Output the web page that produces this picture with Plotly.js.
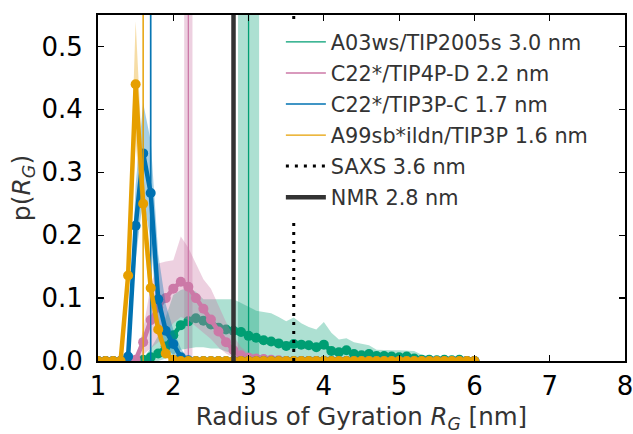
<!DOCTYPE html>
<html>
<head>
<meta charset="utf-8">
<script src="https://cdn.plot.ly/plotly-3.0.1.min.js"></script>
<style>html,body{margin:0;padding:0;background:#fff;}#chart{width:633px;height:434px;}</style>
</head>
<body>
<div id="chart"></div>
<script>
// Bin centres of the Rg histograms [nm]
const rg = [1.0,1.1,1.2,1.3,1.4,1.5,1.6,1.7,1.8,1.9,
            2.0,2.1,2.2,2.3,2.4,2.5,2.6,2.7,2.8,2.9,
            3.0,3.1,3.2,3.3,3.4,3.5,3.6,3.7,3.8,3.9,
            4.0,4.1,4.2,4.3,4.4,4.5,4.6,4.7,4.8,4.9,
            5.0,5.1,5.2,5.3,5.4,5.5,5.6,5.7,5.8,5.9,6.0];

// A03ws/TIP2005s
const a03Mean = [0,0,0,0,0,0,0.002,0.006,0.012,0.023,
                 0.041,0.057,0.063,0.068,0.064,0.058,0.053,0.050,0.048,0.046,
                 0.040,0.037,0.033,0.031,0.028,0.024,0.027,0.026,0.025,0.022,
                 0.026,0.016,0.014,0.017,0.011,0.009,0.011,0.008,0.008,0.007,
                 0.006,0.007,0.004,0.002,0.002,0.001,0.002,0.001,0.002,0,0];
const a03Up   = [0,0,0,0,0,0.002,0.005,0.020,0.040,0.070,
                 0.105,0.113,0.116,0.110,0.098,0.098,0.098,0.098,0.098,0.092,
                 0.086,0.080,0.078,0.076,0.070,0.063,0.069,0.060,0.054,0.050,
                 0.062,0.045,0.034,0.036,0.030,0.028,0.025,0.018,0.017,0.017,
                 0.017,0.017,0.016,0.010,0.008,0.004,0.004,0.002,0.004,0.001,0];
const a03Lo   = [0,0,0,0,0,0,0,0,0,0.004,
                 0.010,0.018,0.020,0.022,0.022,0.020,0.020,0.015,0.012,0.010,
                 0.008,0.006,0.005,0.005,0.004,0.003,0.004,0.004,0.003,0.003,
                 0.003,0.001,0.001,0.001,0.001,0,0,0,0,0,
                 0,0,0,0,0,0,0,0,0,0,0];

// C22*/TIP4P-D
const c22dMean = [0,0,0,0,0,0.002,0.030,0.065,0.085,0.100,
                  0.115,0.126,0.118,0.100,0.083,0.066,0.047,0.030,0.017,0.009,
                  0.005,0.004,0.003,0.002,0.001,0,0,0,0,0,
                  0,0,0,0,0,0,0,0,0,0,
                  0,0,0,0,0,0,0,0,0,0,0];
const c22dUp   = [0,0,0,0,0,0.005,0.050,0.120,0.155,0.158,
                  0.160,0.198,0.180,0.155,0.130,0.115,0.088,0.062,0.040,0.022,
                  0.013,0.010,0.008,0.005,0.003,0,0,0,0,0,
                  0,0,0,0,0,0,0,0,0,0,
                  0,0,0,0,0,0,0,0,0,0,0];
const c22dLo   = [0,0,0,0,0,0,0.010,0.020,0.030,0.045,
                  0.060,0.070,0.065,0.055,0.045,0.035,0.022,0.012,0.005,0.002,
                  0,0,0,0,0,0,0,0,0,0,
                  0,0,0,0,0,0,0,0,0,0,
                  0,0,0,0,0,0,0,0,0,0,0];

// C22*/TIP3P-C
const c22cMean = [0,0,0,0,0.007,0.215,0.330,0.267,0.098,0.048,
                  0.027,0.006,0.001,0,0,0,0,0,0,0,
                  0,0,0,0,0,0,0,0,0,0,
                  0,0,0,0,0,0,0,0,0,0,
                  0,0,0,0,0,0,0,0,0,0,0];
const c22cUp   = [0,0,0,0,0.020,0.280,0.410,0.350,0.170,0.090,
                  0.050,0.020,0.004,0,0,0,0,0,0,0,
                  0,0,0,0,0,0,0,0,0,0,
                  0,0,0,0,0,0,0,0,0,0,
                  0,0,0,0,0,0,0,0,0,0,0];
const c22cLo   = [0,0,0,0,0,0.160,0.260,0.190,0.050,0.020,
                  0.010,0,0,0,0,0,0,0,0,0,
                  0,0,0,0,0,0,0,0,0,0,
                  0,0,0,0,0,0,0,0,0,0,
                  0,0,0,0,0,0,0,0,0,0,0];

// A99sb*ildn/TIP3P
const a99Mean = [0,0,0,0,0.136,0.440,0.250,0.116,0.050,0.012,
                 0.002,0,0,0,0,0,0,0,0,0,
                 0,0,0,0,0,0,0,0,0,0,
                 0,0,0,0,0,0,0,0,0,0,
                 0,0,0,0,0,0,0,0,0,0,0];
const a99Up   = [0,0,0,0,0.170,0.540,0.300,0.140,0.065,0.020,
                 0.004,0,0,0,0,0,0,0,0,0,
                 0,0,0,0,0,0,0,0,0,0,
                 0,0,0,0,0,0,0,0,0,0,
                 0,0,0,0,0,0,0,0,0,0,0];
const a99Lo   = [0,0,0,0,0.100,0.350,0.200,0.090,0.035,0.005,
                 0,0,0,0,0,0,0,0,0,0,
                 0,0,0,0,0,0,0,0,0,0,
                 0,0,0,0,0,0,0,0,0,0,
                 0,0,0,0,0,0,0,0,0,0,0];

// Model averages and their uncertainty [nm]
const modelNames = ["A03ws/TIP2005s", "C22*/TIP4P-D", "C22*/TIP3P-C", "A99sb*ildn/TIP3P"];
const modelAvg   = [3.0, 2.2, 1.7, 1.6];
const modelErr   = [0.14, 0.055, 0.015, 0.01];
const modelColors = ["#009E73", "#CC79A7", "#0072B2", "#E69F00"];
const modelFill   = ["rgba(0,158,115,0.32)", "rgba(204,121,167,0.35)", "rgba(0,114,178,0.35)", "rgba(230,159,0,0.35)"];
const means = [a03Mean, c22dMean, c22cMean, a99Mean];
const ups   = [a03Up, c22dUp, c22cUp, a99Up];
const los   = [a03Lo, c22dLo, c22cLo, a99Lo];

// Experimental references [nm]
const saxsRg = 3.6;
const nmrRg  = 2.8;

const yMax = 0.55;
const traces = [];
const shapes = [];

for (let k = 0; k < modelNames.length; k++) {
  traces.push({x: rg, y: los[k], type: 'scatter', mode: 'lines',
               line: {width: 0, color: modelColors[k]}, showlegend: false, hoverinfo: 'skip'});
  traces.push({x: rg, y: ups[k], type: 'scatter', mode: 'lines', fill: 'tonexty',
               fillcolor: modelFill[k], line: {width: 0, color: modelColors[k]},
               showlegend: false, hoverinfo: 'skip'});
  traces.push({x: rg, y: means[k], type: 'scatter', mode: 'lines+markers',
               line: {width: 4.5, color: modelColors[k]},
               marker: {size: 10, color: modelColors[k]}, showlegend: false});
  traces.push({x: [modelAvg[k], modelAvg[k]], y: [0, yMax], type: 'scatter', mode: 'lines',
               line: {width: 1.3, color: modelColors[k]},
               name: modelNames[k] + ' ' + modelAvg[k].toFixed(1) + ' nm',
               legendgroup: 'g' + k, legendrank: 1 + k});
  shapes.push({type: 'rect', xref: 'x', yref: 'paper',
               x0: modelAvg[k] - modelErr[k], x1: modelAvg[k] + modelErr[k], y0: 0, y1: 1,
               fillcolor: modelFill[k], line: {width: 0}, layer: 'below'});
}
traces.push({x: [saxsRg, saxsRg], y: [0, yMax], type: 'scatter', mode: 'lines',
             line: {width: 3, color: '#000', dash: '3px,6px'},
             name: 'SAXS ' + saxsRg.toFixed(1) + ' nm', legendgroup: 'saxs', legendrank: 5});
traces.push({x: [nmrRg, nmrRg], y: [0, yMax], type: 'scatter', mode: 'lines',
             line: {width: 4.5, color: '#333333'},
             name: 'NMR ' + nmrRg.toFixed(1) + ' nm', legendgroup: 'nmr', legendrank: 6});

const layout = {
  width: 633, height: 434,
  margin: {l: 98, r: 8, t: 15, b: 73},
  paper_bgcolor: '#fff', plot_bgcolor: '#fff',
  font: {family: 'DejaVu Sans', color: '#000'},
  showlegend: true,
  legend: {x: 0.347, y: 0.98, xanchor: 'left', yanchor: 'top',
           bgcolor: 'rgba(255,255,255,1)', borderwidth: 0,
           font: {size: 20.8, color: '#333'}, tracegroupgap: 1, itemwidth: 40},
  xaxis: {range: [1, 8], tickvals: [1,2,3,4,5,6,7,8], ticktext: ['1','2','3','4','5','6','7','8'],
          ticks: 'inside', ticklen: 6, tickwidth: 1.2, tickcolor: '#000',
          showline: true, linecolor: '#000', linewidth: 2, mirror: 'ticks',
          showgrid: false, zeroline: false, tickfont: {size: 26, color: '#000'},
          ticklabelstandoff: 1, ticklabeloverflow: 'allow',
          title: {text: 'Radius of Gyration <i>R<sub>G</sub></i> [nm]', font: {size: 24.5, color: '#333'}, standoff: 8}},
  yaxis: {range: [0, yMax], tickvals: [0,0.1,0.2,0.3,0.4,0.5], ticktext: ['0.0','0.1','0.2','0.3','0.4','0.5'],
          ticks: 'inside', ticklen: 6, tickwidth: 1.2, tickcolor: '#000',
          showline: true, linecolor: '#000', linewidth: 2, mirror: 'ticks',
          showgrid: false, zeroline: false, tickfont: {size: 26, color: '#000'},
          ticklabelstandoff: 8, ticklabeloverflow: 'allow',
          title: {text: 'p(<i>R<sub>G</sub></i>)', font: {size: 25, color: '#333'}, standoff: 4}},
  shapes: shapes
};

Plotly.newPlot('chart', traces, layout, {displayModeBar: false, staticPlot: true});
</script>
</body>
</html>
